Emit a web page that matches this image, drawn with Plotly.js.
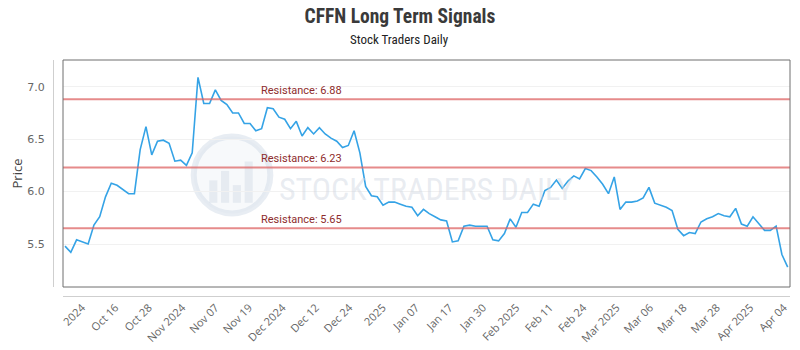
<!DOCTYPE html>
<html>
<head>
<meta charset="utf-8">
<script src="https://cdn.plot.ly/plotly-3.0.1.min.js"></script>
<style>html,body{margin:0;padding:0;background:#fff;}#chart{width:800px;height:350px;}</style>
</head>
<body>
<div id="chart"></div>
<script>
// ---- data ----
const prices = [
 5.48,5.42,5.54,5.52,5.50,5.68,5.76,5.95,6.08,6.06,
 6.02,5.98,5.98,6.40,6.62,6.35,6.48,6.49,6.46,6.29,
 6.30,6.25,6.37,7.09,6.84,6.84,6.97,6.87,6.83,6.75,
 6.75,6.65,6.65,6.58,6.60,6.80,6.79,6.71,6.69,6.60,
 6.67,6.53,6.61,6.55,6.61,6.55,6.51,6.48,6.42,6.44,
 6.58,6.37,6.05,5.96,5.95,5.87,5.90,5.90,5.88,5.86,
 5.85,5.77,5.83,5.79,5.76,5.73,5.72,5.52,5.53,5.67,
 5.68,5.67,5.67,5.67,5.54,5.53,5.60,5.74,5.66,5.80,
 5.80,5.88,5.86,6.01,6.04,6.11,6.03,6.10,6.15,6.12,
 6.22,6.20,6.14,6.07,5.98,6.14,5.83,5.90,5.90,5.91,
 5.94,6.04,5.89,5.87,5.85,5.82,5.64,5.58,5.61,5.60,
 5.71,5.74,5.76,5.79,5.77,5.76,5.84,5.69,5.67,5.76,
 5.70,5.63,5.63,5.67,5.40,5.28
];
const resistanceLevels = [6.88, 6.23, 5.65];
const tickLabels = ["2024","Oct 16","Oct 28","Nov 2024","Nov 07","Nov 19","Dec 2024","Dec 12","Dec 24","2025","Jan 07","Jan 17","Jan 30","Feb 2025","Feb 11","Feb 24","Mar 2025","Mar 06","Mar 18","Mar 28","Apr 2025","Apr 04"];
const holidays = ["2024-11-28","2024-12-25","2025-01-01","2025-01-09","2025-01-20","2025-02-17"];
const lastDate = "2025-04-07";

// trading-day categories, counted back from the last session
function tradingDays(endStr, n) {
  const out = [];
  const d = new Date(endStr + "T00:00:00Z");
  while (out.length < n) {
    const s = d.toISOString().slice(0, 10);
    const wd = d.getUTCDay();
    if (wd !== 0 && wd !== 6 && holidays.indexOf(s) < 0) out.push(s);
    d.setUTCDate(d.getUTCDate() - 1);
  }
  return out.reverse();
}
const dates = tradingDays(lastDate, prices.length);

const tickPos = tickLabels.map((_, k) => 2.94 + k * 5.78);

const traces = [{
  type: "scatter", mode: "lines",
  x: dates, y: prices,
  line: {color: "#35a3e6", width: 1.6},
  hoverinfo: "x+y", showlegend: false
}];

const shapes = [];
resistanceLevels.forEach(v => shapes.push({
  type: "line", xref: "x domain", yref: "y", x0: 0, x1: 1, y0: v, y1: v,
  line: {color: "rgba(222,100,100,0.75)", width: 2}, layer: "above"
}));
// plot frame
shapes.push({type: "rect", xref: "x domain", yref: "y domain", x0: 0, x1: 1, y0: 0, y1: 1,
  line: {color: "#6e6e6e", width: 1}, layer: "above"});
// watermark logo
shapes.push({type: "circle", xref: "paper", yref: "paper",
  x0: 0.2429 - 0.052, x1: 0.2429 + 0.052, y0: 0.5127 - 0.163, y1: 0.5127 + 0.163,
  line: {color: "rgba(205,215,228,0.45)", width: 6}, fillcolor: "rgba(225,232,240,0.25)", layer: "below"});
[[0.212,0.42],[0.228,0.46],[0.244,0.40],[0.260,0.50]].forEach(b => shapes.push({
  type: "rect", xref: "paper", yref: "paper", x0: b[0], x1: b[0] + 0.011, y0: 0.395, y1: b[1] + 0.07,
  line: {width: 0}, fillcolor: "rgba(205,215,228,0.4)", layer: "below"}));

const annotations = resistanceLevels.map(v => ({
  xref: "x", yref: "y", x: 33.6, y: v, yshift: 9, xanchor: "left", yanchor: "middle",
  text: "Resistance: " + v.toFixed(2), showarrow: false,
  font: {family: "Roboto, 'DejaVu Sans', sans-serif", size: 11, color: "#8e2c2c"}
}));
annotations.push({
  xref: "paper", yref: "paper", x: 0.4708, y: 1.085, xanchor: "center", yanchor: "middle",
  text: "Stock Traders Daily", showarrow: false,
  font: {family: "'Roboto Condensed','Liberation Sans Narrow','DejaVu Sans Condensed',Roboto,sans-serif", size: 13, color: "#222"}
});
annotations.push({
  xref: "paper", yref: "paper", x: 0.506, y: 0.455, xanchor: "center", yanchor: "middle",
  text: "STOCK TRADERS DAILY", showarrow: false,
  font: {family: "'Roboto Condensed','Liberation Sans Narrow','DejaVu Sans Condensed',Roboto,sans-serif", size: 32, color: "rgba(205,213,224,0.45)"}
});

const layout = {
  width: 800, height: 350,
  paper_bgcolor: "#fff", plot_bgcolor: "#fff",
  margin: {l: 53, r: 10, t: 60, b: 54},
  title: {text: "<b>CFFN Long Term Signals</b>", x: 0.5, xanchor: "center", xref: "container",
          y: 0.954, yref: "container", yanchor: "middle",
          font: {family: "'Roboto Condensed','Liberation Sans Narrow','DejaVu Sans Condensed',Roboto,sans-serif", size: 19.5, color: "#3a3a3a"}},
  xaxis: {
    type: "category", domain: [0.01357, 1], anchor: "free", position: 0,
    range: [-0.35, 125.4], autorange: false,
    showline: true, linecolor: "#cfcfcf", linewidth: 1,
    showgrid: false, zeroline: false,
    tickmode: "array", tickvals: tickPos, ticktext: tickLabels,
    tickangle: -45, ticks: "",
    tickfont: {family: "'Open Sans', sans-serif", size: 11, color: "#666"}
  },
  yaxis: {
    domain: [0.0381, 1], anchor: "free", position: 0,
    range: [5.09, 7.255], autorange: false,
    showline: true, linecolor: "#cfcfcf", linewidth: 1,
    showgrid: true, gridcolor: "#f1f1f1", zeroline: false,
    tickvals: [5.5, 6.0, 6.5, 7.0], ticktext: ["5.5","6.0","6.5","7.0"],
    ticks: "outside", ticklen: 6, tickcolor: "rgba(0,0,0,0)",
    tickfont: {family: "'DejaVu Sans', sans-serif", size: 11, color: "#666"},
    title: {text: "Price", standoff: 0, font: {family: "'Open Sans', sans-serif", size: 13, color: "#444"}}
  },
  shapes: shapes,
  annotations: annotations
};

Plotly.newPlot("chart", traces, layout, {displayModeBar: false, staticPlot: true});
</script>
</body>
</html>
